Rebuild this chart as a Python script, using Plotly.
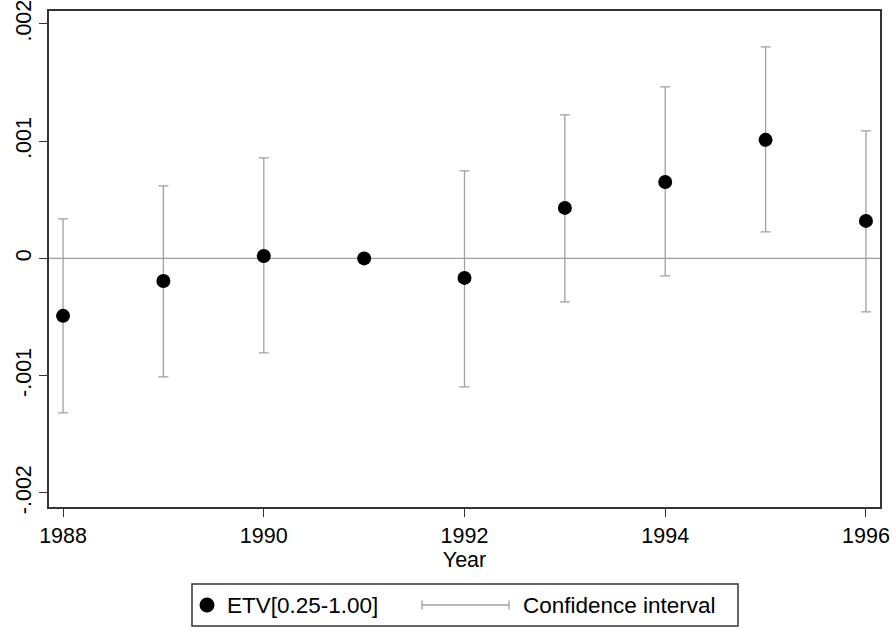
import plotly.graph_objects as go

years = [1988, 1989, 1990, 1991, 1992, 1993, 1994, 1995, 1996]
coef = [-0.00049, -0.000192, 0.000021, 0.0, -0.000166, 0.000431, 0.000652, 0.001011, 0.00032]
ci_high = [0.000337, 0.000618, 0.000857, None, 0.000746, 0.001224, 0.001463, 0.001804, 0.001087]
ci_low = [-0.001318, -0.00101, -0.000806, None, -0.001096, -0.000371, -0.000149, 0.000226, -0.000456]
ytick_vals = [-0.002, -0.001, 0, 0.001, 0.002]
ytick_text = ["-.002", "-.001", "0", ".001", ".002"]
xtick_vals = [1988, 1990, 1992, 1994, 1996]
series_name = "ETV[0.25-1.00]"
ci_name = "Confidence interval"

err_plus = [None if h is None else h - c for h, c in zip(ci_high, coef)]
err_minus = [None if l is None else c - l for l, c in zip(ci_low, coef)]

FONT = "Liberation Sans, Arial, sans-serif"
W, H = 896, 630
L, R, T, B = 49, 16, 11, 123
pw, ph = W - L - R, H - T - B

def px(x):
    return (x - L) / pw

def py(y):
    return (H - B - y) / ph

fig = go.Figure()
fig.add_trace(go.Scatter(
    x=years, y=coef, mode="markers",
    marker=dict(color="black", size=14),
    error_y=dict(type="data", symmetric=False, array=err_plus, arrayminus=err_minus,
                 color="#a0a0a0", thickness=1.3, width=5),
    showlegend=False,
))

shapes = [
    dict(type="line", xref="paper", yref="y", x0=0, x1=1, y0=0, y1=0,
         line=dict(color="#a0a0a0", width=1.3), layer="below"),
    # legend box
    dict(type="rect", xref="paper", yref="paper", x0=px(192), x1=px(738), y0=py(584), y1=py(626),
         line=dict(color="#333333", width=1.5), fillcolor="white"),
    dict(type="circle", xref="paper", yref="paper", x0=px(199.5), x1=px(214.5), y0=py(597.5), y1=py(612.5),
         line=dict(color="black", width=0), fillcolor="black"),
    dict(type="line", xref="paper", yref="paper", x0=px(422), x1=px(509), y0=py(605), y1=py(605),
         line=dict(color="#a0a0a0", width=1.3)),
    dict(type="line", xref="paper", yref="paper", x0=px(422), x1=px(422), y0=py(600.5), y1=py(609.5),
         line=dict(color="#a0a0a0", width=1.3)),
    dict(type="line", xref="paper", yref="paper", x0=px(509), x1=px(509), y0=py(600.5), y1=py(609.5),
         line=dict(color="#a0a0a0", width=1.3)),
]
annotations = [
    dict(text=series_name, xref="paper", yref="paper", x=px(225), y=py(605), xanchor="left",
         yanchor="middle", showarrow=False, font=dict(family=FONT, size=22.5, color="black")),
    dict(text=ci_name, xref="paper", yref="paper", x=px(521), y=py(605), xanchor="left",
         yanchor="middle", showarrow=False, font=dict(family=FONT, size=22.5, color="black")),
]

fig.update_layout(
    width=W, height=H,
    margin=dict(l=L, r=R, t=T, b=B),
    paper_bgcolor="white", plot_bgcolor="white",
    font=dict(family=FONT, size=21.5, color="black"),
    shapes=shapes, annotations=annotations,
    showlegend=False,
    xaxis=dict(range=[1987.86, 1996.14], tickvals=xtick_vals, ticks="outside", ticklen=8,
               tickcolor="#333333", tickwidth=1.3, showgrid=False, zeroline=False,
               showline=True, linecolor="#333333", linewidth=1.5, mirror=True,
               automargin=False, ticklabeloverflow="allow",
               title=dict(text="Year", standoff=2, font=dict(size=21.5)),
               tickfont=dict(size=21.5)),
    yaxis=dict(range=[-0.00212, 0.00211], tickvals=ytick_vals, ticktext=ytick_text,
               tickangle=-90, ticks="outside", ticklen=8, tickcolor="#333333", tickwidth=1.3,
               showgrid=False, zeroline=False, showline=True, linecolor="#333333",
               linewidth=1.5, mirror=True, automargin=False, ticklabeloverflow="allow",
               tickfont=dict(size=21.5)),
)

fig.write_html("out.html")
